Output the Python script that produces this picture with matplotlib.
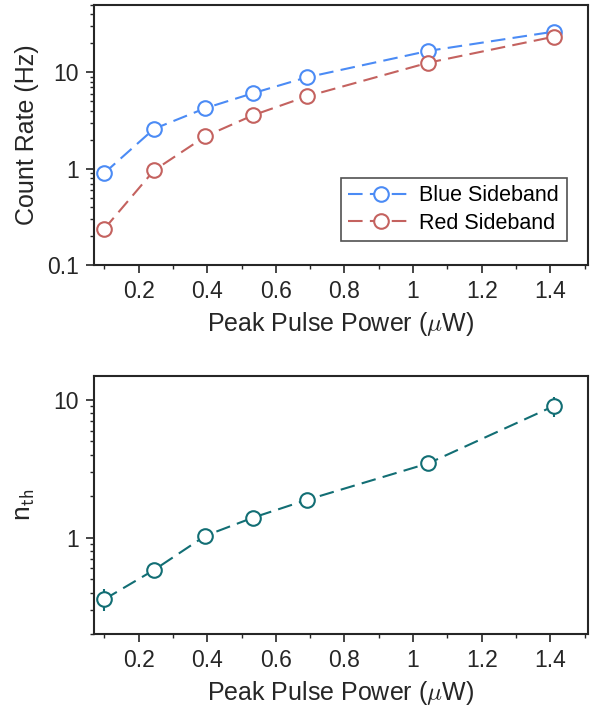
import matplotlib
matplotlib.use('Agg')
import matplotlib.pyplot as plt
from matplotlib.ticker import LogLocator, MultipleLocator, FixedLocator, FixedFormatter, NullFormatter

plt.rcParams['font.family'] = ['Liberation Sans', 'DejaVu Sans']
plt.rcParams['mathtext.fontset'] = 'cm'

# data
power = [0.1, 0.245, 0.395, 0.534, 0.69, 1.045, 1.412]
blue_rate = [0.90, 2.59, 4.25, 6.08, 8.87, 16.7, 26.5]
red_rate = [0.237, 0.96, 2.17, 3.59, 5.62, 12.6, 23.5]
nth = [0.357, 0.583, 1.034, 1.40, 1.88, 3.47, 9.07]
nth_err = [0.065, 0.03, 0.04, 0.05, 0.06, 0.12, 1.5]

blue_c = '#4B8BF5'
red_c = '#C4625F'
teal_c = '#126E74'
ax_c = '#262626'

xticks = [0.2, 0.4, 0.6, 0.8, 1.0, 1.2, 1.4]
xticklabels = ['0.2', '0.4', '0.6', '0.8', '1', '1.2', '1.4']

fig = plt.figure(figsize=(5.9, 7.13), dpi=100)
ax1 = fig.add_axes([94/590, 1-265/713, 494/590, 260/713])
ax2 = fig.add_axes([94/590, 1-634/713, 494/590, 258.3/713])

mk = dict(marker='o', markersize=10.5, markerfacecolor='white', markeredgewidth=1.5,
          linestyle=(0, (7, 3.5)), linewidth=1.5)
ax1.plot(power, blue_rate, color=blue_c, label='Blue Sideband', **mk)
ax1.plot(power, red_rate, color=red_c, label='Red Sideband', **mk)
ax2.errorbar(power, nth, yerr=nth_err, color=teal_c, capsize=0, elinewidth=1.5, **mk)

def style(ax, ylim, yticks, ylabels):
    ax.set_yscale('log')
    ax.set_xlim(0.07, 1.51)
    ax.set_ylim(*ylim)
    ax.xaxis.set_major_locator(FixedLocator(xticks))
    ax.xaxis.set_major_formatter(FixedFormatter(xticklabels))
    ax.xaxis.set_minor_locator(MultipleLocator(0.1))
    ax.yaxis.set_major_locator(FixedLocator(yticks))
    ax.yaxis.set_major_formatter(FixedFormatter(ylabels))
    ax.yaxis.set_minor_locator(LogLocator(base=10, subs=range(2, 10)))
    ax.yaxis.set_minor_formatter(NullFormatter())
    ax.tick_params(which='major', direction='out', length=6, width=1.2, colors=ax_c,
                   labelsize=16.5, labelcolor=ax_c, pad=5)
    ax.tick_params(which='minor', direction='out', length=3, width=1.0, colors=ax_c)
    for s in ax.spines.values():
        s.set_linewidth(1.5)
        s.set_color(ax_c)
    ax.set_xlabel(r'Peak Pulse Power ($\mu$W)', fontsize=18, color=ax_c, labelpad=5)

style(ax1, (0.1, 50), [0.1, 1, 10], ['0.1', '1', '10'])
style(ax2, (0.2, 15), [1, 10], ['1', '10'])
ax1.set_ylabel('Count Rate (Hz)', fontsize=18, color=ax_c, labelpad=6)
ax2.set_ylabel(r'n$_{\mathsf{th}}$', fontsize=19, color=ax_c, labelpad=12)

leg = ax1.legend(loc='lower right', bbox_to_anchor=(0.957, 0.092), fontsize=15.5,
                 frameon=True, fancybox=False, handlelength=3.0, borderpad=0.35,
                 labelspacing=0.3, handletextpad=0.3, borderaxespad=0)
leg.get_frame().set_edgecolor(ax_c)
leg.get_frame().set_linewidth(1.2)
for t in leg.get_texts():
    t.set_color('black')

fig.savefig('out.png', dpi=100)
